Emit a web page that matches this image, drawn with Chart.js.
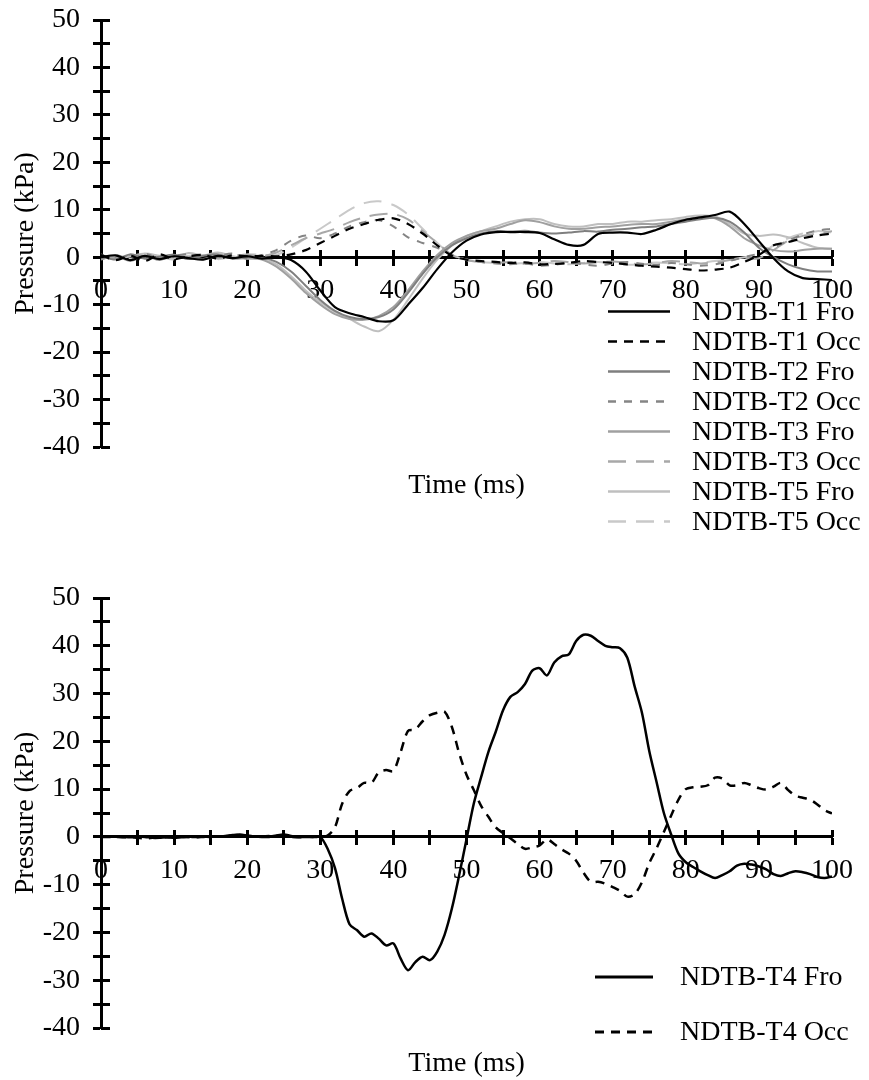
<!DOCTYPE html>
<html><head><meta charset="utf-8">
<script src="https://cdn.jsdelivr.net/npm/chart.js@4.4.1/dist/chart.umd.min.js"></script>
<style>
html,body{margin:0;padding:0;background:#fff;}
#wrap{position:relative;width:869px;height:1080px;}
canvas{position:absolute;left:0;}
</style></head><body>
<div id="wrap">
<canvas id="top" width="869" height="540" style="top:0"></canvas>
<canvas id="bot" width="869" height="540" style="top:540px"></canvas>
</div>
<script>
// ---------- DATA ----------
const topTime = [0,2,4,6,8,10,12,14,16,18,20,22,24,26,28,30,32,34,36,38,40,42,44,46,48,50,52,54,56,58,60,62,64,66,68,70,72,74,76,78,80,82,84,86,88,90,92,94,96,98,100];

const t1Fro = [0,0.4,-0.6,0.3,-0.4,0.2,-0.2,-0.5,0.3,-0.2,0.2,-0.3,
  0,-0.6,-3,-7,-10.5,-11.8,-12.6,-13.5,-13.3,-10,-6.5,-2.5,1,3.5,4.8,5.3,5.3,5.3,5.1,3.8,2.6,2.6,4.9,5.2,5.2,4.9,5.8,7,7.9,8.4,8.9,9.6,7,3.4,-0.2,-3,-4.4,-4.6,-4.8];
const t1Occ = [0.5,-0.6,0.3,-0.8,0.6,-0.4,0.2,0.5,-0.3,0.4,0.2,0.3,
  0.2,0.6,1.5,3,4.5,6,7,7.9,8.2,7,5,2.5,0.3,-0.5,-0.8,-1,-1.2,-1.1,-1.5,-1.4,-1.2,-0.8,-1,-1.2,-1.5,-1.8,-2,-2.2,-2.5,-2.8,-2.6,-2.2,-1,0.5,2.5,3.2,4,4.6,5];
const t2Fro = [0.2,-0.5,0.6,-0.3,0.1,0.5,-0.4,0.3,0.6,-0.2,0.1,0,
  -1,-3,-6,-9,-11.3,-12.6,-13,-12.6,-11,-7.5,-3.5,0,2.5,4,5,5.5,5.4,5.6,5.2,5,5.2,5.5,5.4,5.8,6,6.3,6.5,7,7.5,8,8.3,7.5,5.2,2,0,-1.5,-2.5,-3,-3];
const t2Occ = [-0.3,0.5,-0.4,0.7,-0.2,0.3,0.6,-0.5,0.2,0.8,-0.3,0.5,
  1.5,3.5,4.6,4,5,6.5,7.4,7.8,6.5,4.2,3,2,0.5,-0.5,-1,-1.3,-1.5,-1.3,-1.8,-1.6,-1.2,-1.5,-1.8,-1.3,-1,-1.4,-1.6,-1.2,-1.5,-1.8,-1.5,-0.8,0,0.8,2,3.5,4.8,5.6,6];
const t3Fro = [-0.5,0.3,-0.8,0.2,-0.6,0.4,0,-0.4,0.5,-0.3,-0.2,-0.5,
  -2,-4.5,-7.5,-10,-12,-13,-13.2,-12.4,-10.5,-7,-3,0.5,3,4.5,5.5,6,7,7.8,7.4,6.5,6,6,6.3,6.5,6.8,7,7,7.5,8,8.5,8.2,6.5,4,2.5,1.5,1.2,1.5,1.8,1.8];
const t3Occ = [0.3,-0.2,0.5,0.2,-0.5,0.6,-0.3,0.4,-0.2,0.3,0.5,0.2,
  1,2.5,4,5,6,7.4,8.4,9,9.1,8,5.5,3,0.5,-0.6,-1,-1.2,-1,-1.4,-1.2,-0.8,-1,-1.3,-1.1,-0.9,-1.2,-1.5,-1.2,-0.8,-1,-1.3,-1.1,-0.6,-0.3,-0.2,1.5,3.5,4.5,5,5.5];
const t5Fro = [0.6,-0.4,0.2,0.8,0.3,-0.2,0.9,0.4,1.0,0.2,-0.3,-0.3,
  -1.5,-4,-7,-9.5,-11.5,-13,-14.6,-15.6,-13.2,-9,-4.5,-0.5,2.5,4.5,5.5,6.5,7.5,8,8,7,6.5,6.5,7,7,7.5,7.5,7.8,8,8.5,8.8,8.6,7,5,4.5,4.8,4.2,3,2,1.8];
const t5Occ = [-0.4,0.2,-0.3,0.4,0.1,-0.5,0.3,0.5,-0.4,0.2,0.6,0.5,
  0.5,2,4,6,8,10,11.4,11.8,11,9,6,3,0.5,-0.5,-1,-1.2,-1.4,-1.2,-1,-1.3,-1.5,-1.2,-1,-1.3,-1.6,-1.4,-1.1,-1.3,-1.5,-1.2,-0.8,-0.5,0,0.5,2.5,4,5,5.5,5.2];

const botTime = [0,1,2,3,4,5,6,7,8,9,10,11,12,13,14,15,16,17,18,19,20,21,22,23,24,25,26,27,28,29,30,31,32,33,34,35,36,37,38,39,40,41,42,43,44,45,46,47,48,49,50,51,52,53,54,55,56,57,58,59,60,61,62,63,64,65,66,67,68,69,70,71,72,73,74,75,76,77,78,79,80,81,82,83,84,85,86,87,88,89,90,91,92,93,94,95,96,97,98,99,100];
const t4Fro = [0,0,0.1,0,-0.1,0,0,-0.2,-0.2,-0.1,
  -0.2,-0.1,0,0,0.1,0,0.1,0.2,0.4,0.5,
  0.3,0.1,0,0,0.3,0.5,0.2,0,0,0,
  0,-2.5,-6.5,-13,-18.3,-19.5,-20.9,-20.2,-21.3,-22.7,
  -22.3,-25.5,-27.9,-26.2,-25.1,-25.8,-24,-20.5,-15,-8,
  -0.5,7,12.5,17.8,22,26.5,29.3,30.3,32,34.8,
  35.3,33.8,36.5,37.8,38.2,41,42.3,42.1,41,40,
  39.7,39.5,37.5,31.5,26,18,11.5,5,0.5,-3.5,
  -5.3,-6.3,-7.2,-8,-8.6,-8,-7.2,-6,-5.6,-5.8,
  -6.2,-6.8,-7.8,-8.2,-7.6,-7.2,-7.4,-7.8,-8.4,-8.6,-8.3];
const t4Occ = [0,0.1,0,-0.1,0,-0.2,-0.3,-0.2,0,-0.1,
  0,0.1,0,-0.1,0,0.1,0.1,0.2,0.3,0.4,
  0.2,0,0.1,0.2,0.3,0.2,0,-0.1,0,0,
  0,0.3,2,7,9.6,10.2,11.3,11.3,13.5,14,
  13.8,17.8,22.2,22.5,24.2,25.5,26,26.2,23,17.5,
  13,9.8,6.5,4.2,2,0.8,-0.3,-1.5,-2.5,-2.2,
  -1.8,-0.5,-1.5,-2.6,-3.5,-5,-7.5,-9.4,-9.4,-9.8,
  -10.5,-11.3,-12.5,-12,-9.5,-5.5,-2.4,1,4.5,7.8,
  10,10.4,10.5,10.8,12.4,12.2,10.8,10.8,11.3,10.8,
  10.2,9.9,10.5,11.3,9.8,8.6,8.2,7.8,6.8,5.6,4.9];

const xTickLabels = [0,10,20,30,40,50,60,70,80,90,100];
const yTickLabels = [-40,-30,-20,-10,0,10,20,30,40,50];

// ---------- STYLE ----------
const FONT = {family: '"Liberation Serif", "Times New Roman", serif', size: 28, lineHeight: 1.2};
const FONT_CSS = '28px "Liberation Serif", "Times New Roman", serif';

function pts(t, v) { return t.map((x, i) => ({x: x, y: v[i]})); }

function ds(label, t, v, color, width, dash) {
  return {label: label, data: pts(t, v), borderColor: color, borderWidth: width,
    borderDash: dash || [], pointRadius: 0, tension: 0.3, fill: false};
}

const extras = {
  id: 'extras',
  afterDraw(chart, args, o) {
    const ctx = chart.ctx, ca = chart.chartArea;
    ctx.save();
    ctx.font = FONT_CSS; ctx.fillStyle = '#000';
    ctx.textAlign = 'center'; ctx.textBaseline = 'middle';
    ctx.fillText(o.xTitle, (ca.left + ca.right) / 2, ca.bottom + o.xTitleGap);
    ctx.textAlign = 'left';
    chart.data.datasets.forEach((d, i) => {
      const y = o.legendY + i * o.legendStep;
      ctx.beginPath();
      ctx.setLineDash(d.borderDash || []);
      ctx.strokeStyle = d.borderColor; ctx.lineWidth = d.borderWidth + 0.5;
      ctx.moveTo(o.lx1, y); ctx.lineTo(o.lx2, y); ctx.stroke();
      ctx.setLineDash([]);
      ctx.fillStyle = '#000';
      ctx.fillText(d.label, o.tx, y + 1);
    });
    ctx.restore();
  }
};

function makeChart(id, datasets, padding, extraOpts) {
  const tickCb = (list) => (v) => list.includes(v) ? String(v) : '';
  const gridOut = (len) => ({drawOnChartArea: false, drawTicks: true, tickLength: len, tickWidth: 3, tickColor: '#000'});
  return new Chart(document.getElementById(id), {
    type: 'line',
    data: {datasets: datasets},
    options: {
      responsive: false, animation: false, devicePixelRatio: 1,
      layout: {padding: padding},
      plugins: {legend: {display: false}, tooltip: {enabled: false}, extras: extraOpts},
      scales: {
        x: {type: 'linear', axis: 'x', min: 0, max: 100, position: {y: 0},
          ticks: {stepSize: 5, autoSkip: false, maxRotation: 0, padding: 10, color: '#000', font: FONT, callback: tickCb(xTickLabels)},
          grid: gridOut(7), border: {display: true, width: 3, color: '#000'},
          afterFit: (s) => { s.paddingLeft = 0; s.paddingRight = 0; }},
        x2: {type: 'linear', axis: 'x', min: 0, max: 100, position: {y: 0},
          ticks: {display: false, stepSize: 5}, grid: gridOut(-7), border: {display: false},
          afterFit: (s) => { s.paddingLeft = 0; s.paddingRight = 0; }},
        y: {type: 'linear', axis: 'y', min: -40, max: 50, position: 'left',
          ticks: {stepSize: 5, autoSkip: false, padding: 13, color: '#000', font: FONT, callback: tickCb(yTickLabels)},
          grid: gridOut(8), border: {display: true, width: 3, color: '#000'},
          title: {display: true, text: 'Pressure (kPa)', color: '#000', font: FONT, padding: {top: 9, bottom: 0}},
          afterFit: (s) => { s.width = 101; s.paddingTop = 0; s.paddingBottom = 0; }},
        y2: {type: 'linear', axis: 'y', min: -40, max: 50, position: {x: 0},
          ticks: {display: false, stepSize: 5}, grid: gridOut(-9), border: {display: false},
          afterFit: (s) => { s.paddingTop = 0; s.paddingBottom = 0; }}
      }
    },
    plugins: [extras]
  });
}

makeChart('top', [
  ds('NDTB-T1 Fro', topTime, t1Fro, '#000000', 2.2),
  ds('NDTB-T1 Occ', topTime, t1Occ, '#000000', 2.2, [9, 7]),
  ds('NDTB-T2 Fro', topTime, t2Fro, '#7f7f7f', 2),
  ds('NDTB-T2 Occ', topTime, t2Occ, '#858585', 2, [8, 8]),
  ds('NDTB-T3 Fro', topTime, t3Fro, '#a0a0a0', 2),
  ds('NDTB-T3 Occ', topTime, t3Occ, '#a8a8a8', 2, [18, 10]),
  ds('NDTB-T5 Fro', topTime, t5Fro, '#bfbfbf', 2),
  ds('NDTB-T5 Occ', topTime, t5Occ, '#c9c9c9', 2, [18, 10])
], {top: 20, bottom: 93, left: 0, right: 37},
  {xTitle: 'Time (ms)', xTitleGap: 39, legendY: 311.5, legendStep: 30, lx1: 608, lx2: 670, tx: 692});

makeChart('bot', [
  ds('NDTB-T4 Fro', botTime, t4Fro, '#000000', 2.5),
  ds('NDTB-T4 Occ', botTime, t4Occ, '#000000', 2.5, [9, 7])
], {top: 58, bottom: 52, left: 0, right: 37},
  {xTitle: 'Time (ms)', xTitleGap: 36, legendY: 437, legendStep: 55, lx1: 595, lx2: 653, tx: 680});
</script>
</body></html>
